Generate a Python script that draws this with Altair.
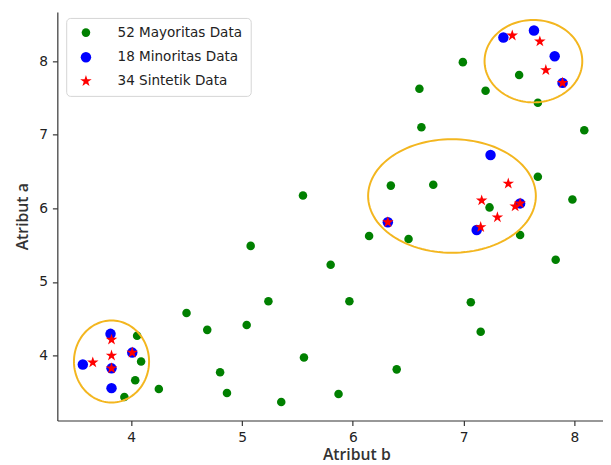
import altair as alt
import numpy as np
import pandas as pd

# ---- data ----
maj_x = [4.053, 4.089, 4.036, 3.938, 4.249, 4.499, 4.686, 4.802, 4.864, 5.042,
         5.078, 5.238, 5.354, 5.550, 5.559, 5.800, 5.871, 5.969, 6.147, 6.343,
         6.396, 6.503, 6.601, 6.619, 6.726, 6.993, 7.065, 7.154, 7.198, 7.234,
         7.501, 7.510, 7.670, 7.670, 7.831, 7.982, 8.089]
maj_y = [4.268, 3.919, 3.664, 3.436, 3.544, 4.577, 4.349, 3.772, 3.490, 4.416,
         5.490, 4.738, 3.369, 6.174, 3.973, 5.235, 3.477, 4.738, 5.624, 6.309,
         3.812, 5.584, 7.624, 7.101, 6.322, 7.987, 4.725, 4.322, 7.597, 6.013,
         7.812, 5.638, 7.436, 6.430, 5.302, 6.121, 7.060]

min_x = [3.813, 4.009, 3.563, 3.822, 3.822, 6.316, 7.243, 7.510, 7.118,
         7.359, 7.635, 7.822, 7.893]
min_y = [4.295, 4.040, 3.879, 3.826, 3.557, 5.812, 6.725, 6.067, 5.705,
         8.322, 8.416, 8.067, 7.705]

syn_x = [3.822, 3.822, 3.653, 4.009, 3.822, 6.316, 7.403, 7.163, 7.465, 7.510,
         7.305, 7.154, 7.439, 7.688, 7.742, 7.893]
syn_y = [4.215, 4.000, 3.906, 4.040, 3.826, 5.812, 6.336, 6.107, 6.027, 6.067,
         5.879, 5.745, 8.349, 8.268, 7.879, 7.705]

groups = ["52 Mayoritas Data", "18 Minoritas Data", "34 Sintetik Data"]
colors = ["#008000", "#0000ff", "#ff0000"]
tick_values = [4, 5, 6, 7, 8]

# ellipses around minority clusters: centre and radii in data units
ell_cx = [3.822, 6.895, 7.630]
ell_cy = [3.919, 6.168, 8.000]
ell_rx = [0.339, 0.757, 0.441]
ell_ry = [0.557, 0.772, 0.560]

# ---- build tables ----
pts = pd.concat([
    pd.DataFrame({"b": maj_x, "a": maj_y, "g": groups[0]}),
    pd.DataFrame({"b": min_x, "a": min_y, "g": groups[1]}),
    pd.DataFrame({"b": syn_x, "a": syn_y, "g": groups[2]}),
], ignore_index=True)

t = np.linspace(0, 2 * np.pi, 121)
ell_rows = []
for i in range(len(ell_cx)):
    for k, tt in enumerate(t):
        ell_rows.append({"e": i, "k": k,
                         "b": ell_cx[i] + ell_rx[i] * np.cos(tt),
                         "a": ell_cy[i] + ell_ry[i] * np.sin(tt)})
ell = pd.DataFrame(ell_rows)

STAR = ("M0,-1L0.2245,-0.309L0.9511,-0.309L0.3633,0.118L0.5878,0.809L0,0.382"
        "L-0.5878,0.809L-0.3633,0.118L-0.9511,-0.309L-0.2245,-0.309Z")

xdom = [3.333, 8.258]
ydom = [3.117, 8.668]

xenc = alt.X("b:Q", scale=alt.Scale(domain=xdom, nice=False, zero=False),
             axis=alt.Axis(values=tick_values, format="d", title="Atribut b",
                           titleX=303))
yenc = alt.Y("a:Q", scale=alt.Scale(domain=ydom, nice=False, zero=False),
             axis=alt.Axis(values=tick_values, format="d", title="Atribut a"))

leg = alt.Legend(title=None, labelOffset=25, symbolOffset=5)

points = alt.Chart(pts).mark_point(filled=True, opacity=1).encode(
    x=xenc, y=yenc,
    color=alt.Color("g:N", scale=alt.Scale(domain=groups, range=colors),
                    legend=leg),
    shape=alt.Shape("g:N", scale=alt.Scale(domain=groups,
                                           range=["circle", "circle", STAR]),
                    legend=leg),
    size=alt.Size("g:N", scale=alt.Scale(domain=groups, range=[75, 150, 85]),
                  legend=leg),
)

ellipses = alt.Chart(ell).mark_line(color="#f3b61f", strokeWidth=2).encode(
    x=alt.X("b:Q", scale=alt.Scale(domain=xdom, nice=False, zero=False)),
    y=alt.Y("a:Q", scale=alt.Scale(domain=ydom, nice=False, zero=False)),
    detail="e:N",
    order="k:Q",
)

chart = alt.layer(points, ellipses).properties(
    width=553, height=414,
    autosize=alt.AutoSizeParams(type="none"),
    padding={"left": 50, "top": 1, "right": 0, "bottom": 41},
).configure_view(strokeWidth=0).configure_axis(
    grid=False,
    domainColor="#333333", domainWidth=1.2,
    tickColor="#333333", tickWidth=1.2, tickSize=5,
    labelFont="DejaVu Sans", labelFontSize=14, labelColor="#222222",
    labelPadding=5,
    titleFont="Open Sans", titleFontSize=16, titleFontWeight=600,
    titleColor="#333333",
).configure_axisY(titlePadding=8).configure_axisX(titlePadding=3).configure_legend(
    orient="none", legendX=9, legendY=6,
    fillColor="white", strokeColor="#d4d4d4", cornerRadius=4,
    padding=8, rowPadding=10,
    labelFont="DejaVu Sans", labelFontSize=13.75, labelColor="#222222",
)

chart.save("out.html", embed_options={"renderer": "svg", "actions": False})
